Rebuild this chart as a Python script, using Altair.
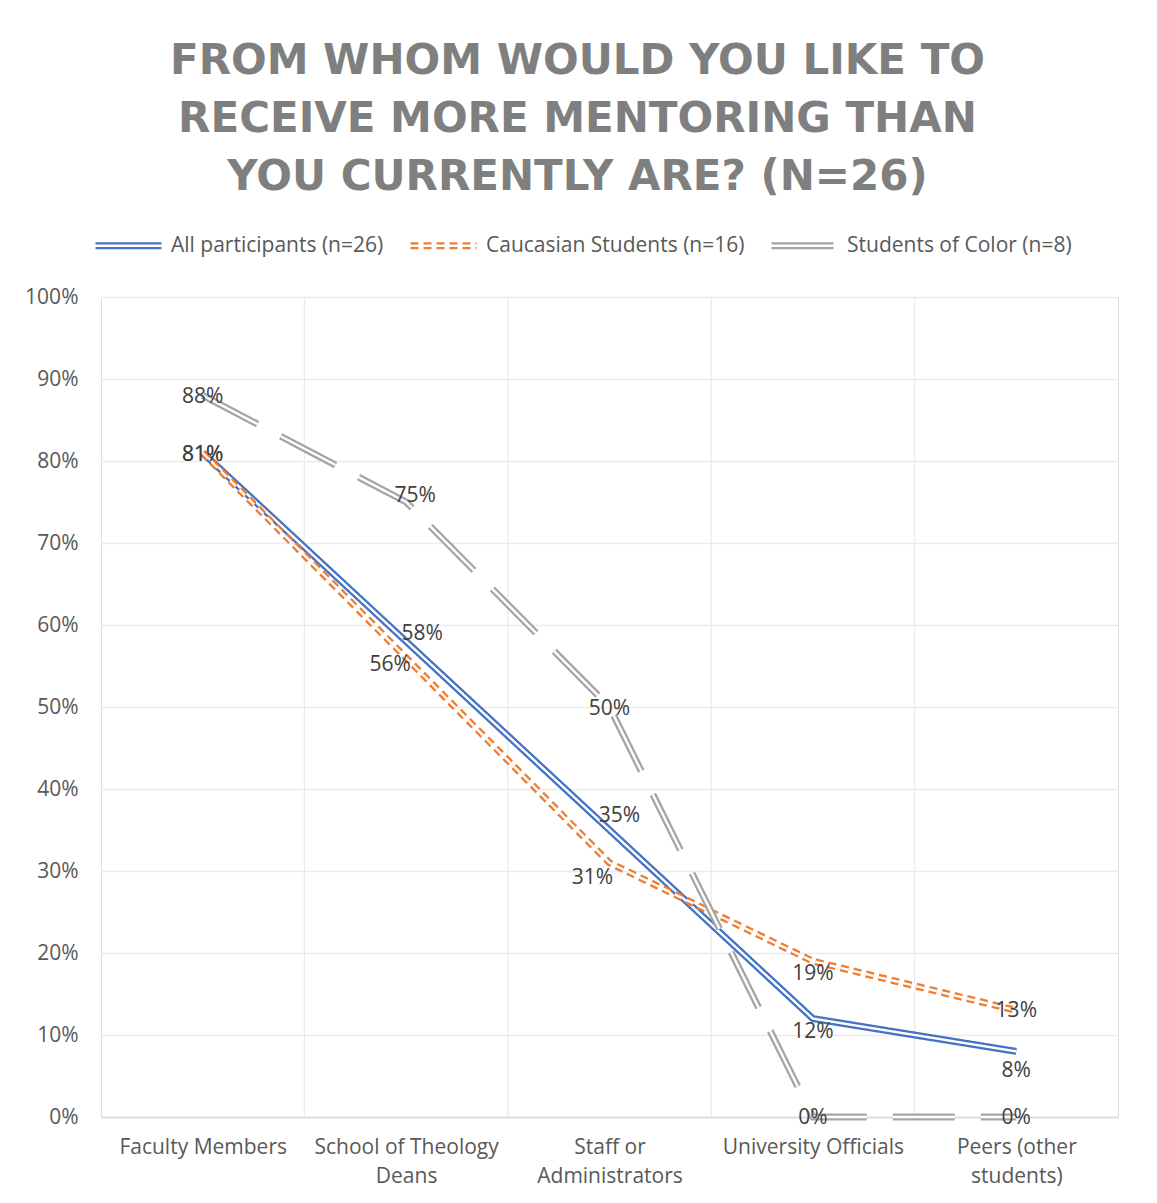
import altair as alt
import pandas as pd

# ---- data -------------------------------------------------------------
CATEGORIES = [
    "Faculty Members",
    "School of Theology Deans",
    "Staff or Administrators",
    "University Officials",
    "Peers (other students)",
]
# how each category name is wrapped under the axis
AXIS_LABEL_LINES = [
    ["Faculty Members"],
    ["School of Theology", "Deans"],
    ["Staff or", "Administrators"],
    ["University Officials"],
    ["Peers (other", "students)"],
]
SERIES = [
    "All participants (n=26)",
    "Caucasian Students (n=16)",
    "Students of Color (n=8)",
]
ALL_PARTICIPANTS = [81, 58, 35, 12, 8]      # percent
CAUCASIAN = [81, 56, 31, 19, 13]            # percent
STUDENTS_OF_COLOR = [88, 75, 50, 0, 0]      # percent
VALUES = [ALL_PARTICIPANTS, CAUCASIAN, STUDENTS_OF_COLOR]

# ---- styling ----------------------------------------------------------
FONT = "Open Sans"
TITLE_FONT = "DejaVu Sans"
COLORS = ["#4472C4", "#ED7D31", "#A5A5A5"]
DASHES = [[1, 0], [8, 5], [62, 26]]
OUTER_W = 7      # full width of the double stroke
INNER_W = 2.4    # white core that splits it into two thin lines

# data-label nudges (px) per (series, category)
LABEL_NUDGE = {
    (0, 0): (0, 2), (0, 1): (16, -7), (0, 2): (10, -14), (0, 3): (0, 13), (0, 4): (0, 20),
    (1, 0): (0, 2), (1, 1): (-16, 7), (1, 2): (-17, 15), (1, 3): (0, 13), (1, 4): (0, 1),
    (2, 0): (0, 2), (2, 1): (9, -6), (2, 2): (0, 2), (2, 3): (0, 1), (2, 4): (0, 1),
}

rows = []
for s, name in enumerate(SERIES):
    for i, cat in enumerate(CATEGORIES):
        rows.append({"series": name, "s": s, "idx": i, "category": cat,
                     "value": VALUES[s][i] / 100})
df = pd.DataFrame(rows)

n = len(CATEGORIES)
bounds = pd.DataFrame({"b": [i + 0.5 for i in range(n - 1)]})

label_expr = "[" + ",".join(
    "[" + ",".join(repr(t) for t in lines) + "]" for lines in AXIS_LABEL_LINES
) + "][datum.value]"

x_scale = alt.Scale(domain=[-0.5, n - 0.5], nice=False, zero=False)
y_scale = alt.Scale(domain=[0, 1], nice=False)

x_axis = alt.Axis(
    values=list(range(n)), labelExpr=label_expr, title=None, grid=False,
    ticks=False, domain=True, domainColor="#d9d9d9", domainWidth=1.5,
    labelFont=FONT, labelFontSize=21, labelColor="#595959", labelLimit=0,
    labelPadding=19, labelLineHeight=29, labelBaseline="top",
)
y_axis = alt.Axis(
    values=[i / 10 for i in range(11)], format=".0%", title=None, grid=True,
    gridColor="#ebebeb", gridWidth=1.3, ticks=False, domain=False,
    labelFont=FONT, labelFontSize=21, labelColor="#595959", labelPadding=23,
)

base = alt.Chart(df)

# vertical gridlines between categories
vgrid = alt.Chart(bounds).mark_rule(color="#ebebeb", strokeWidth=1.3).encode(
    x=alt.X("b:Q", scale=x_scale, axis=x_axis)
)

legend = alt.Legend(
    orient="none", legendX=-7, legendY=-86, direction="horizontal", title=None,
    symbolType="M-1,-0.07L1,-0.07M-1,0.07L1,0.07", symbolSize=4356,
    symbolStrokeWidth=2.2, labelFont=FONT, labelFontSize=21, labelColor="#595959",
    labelLimit=0, columnPadding=22, labelOffset=8, symbolOffset=0,
)

layers = [vgrid]
for s, name in enumerate(SERIES):
    sub = base.transform_filter(alt.datum.s == s)
    outer = sub.mark_line(strokeWidth=OUTER_W, strokeJoin="miter").encode(
        x=alt.X("idx:Q", scale=x_scale, axis=x_axis),
        y=alt.Y("value:Q", scale=y_scale, axis=y_axis),
        color=alt.Color("series:N", scale=alt.Scale(domain=SERIES, range=COLORS),
                        legend=legend),
        strokeDash=alt.StrokeDash("series:N",
                                  scale=alt.Scale(domain=SERIES, range=DASHES),
                                  legend=legend),
    )
    inner = sub.mark_line(strokeWidth=INNER_W, color="white", strokeJoin="miter",
                          strokeDash=DASHES[s]).encode(
        x=alt.X("idx:Q", scale=x_scale),
        y=alt.Y("value:Q", scale=y_scale),
    )
    layers += [outer, inner]

# data labels
for (s, i), (dx, dy) in LABEL_NUDGE.items():
    lab = base.transform_filter(
        (alt.datum.s == s) & (alt.datum.idx == i)
    ).mark_text(font=FONT, fontSize=21, color="#404040", dx=dx, dy=dy,
                align="center", baseline="middle").encode(
        x=alt.X("idx:Q", scale=x_scale),
        y=alt.Y("value:Q", scale=y_scale),
        text=alt.Text("value:Q", format=".0%"),
    )
    layers.append(lab)

chart = alt.layer(*layers).properties(
    width=1017,
    height=820,
    autosize=alt.AutoSizeParams(type="none"),
    padding={"left": 101, "top": 297, "right": 39, "bottom": 86},
    title=alt.Title(
        ["FROM WHOM WOULD YOU LIKE TO", "RECEIVE MORE MENTORING THAN",
         "YOU CURRENTLY ARE? (N=26)"],
        font=TITLE_FONT, fontSize=42, fontWeight="bold", color="#7f7f7f",
        lineHeight=58, anchor="middle", frame="group", dx=-32, offset=12,
    ),
).configure_view(stroke="#ebebeb", strokeWidth=1.3).configure(background="white")

chart.save("out.html", embed_options={"renderer": "svg", "actions": False})
